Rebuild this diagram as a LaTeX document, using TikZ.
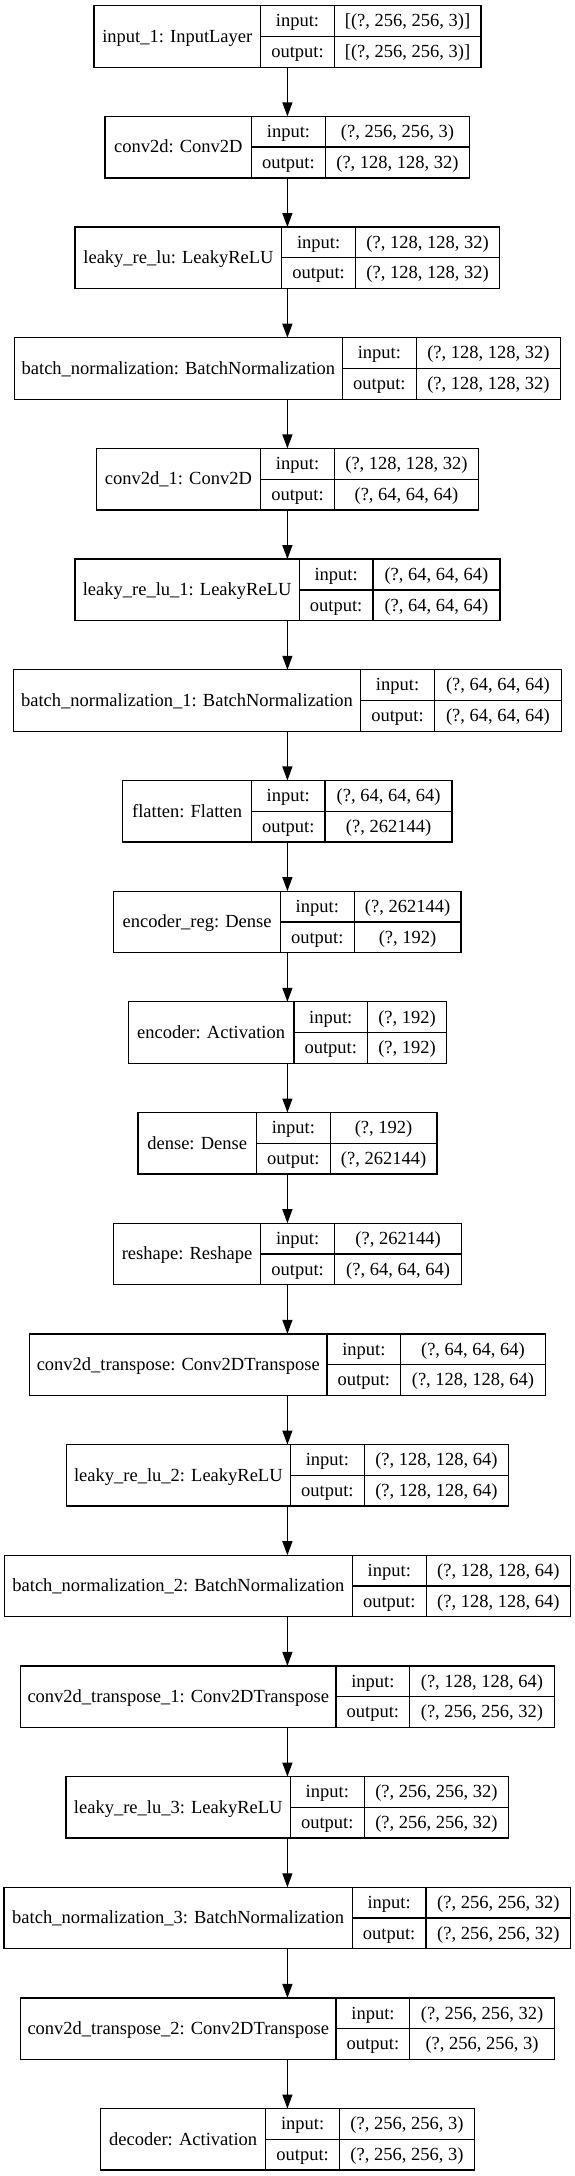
\documentclass[tikz,border=0pt]{standalone}
\usepackage{fontspec}
\setmainfont{Liberation Serif}
\usetikzlibrary{arrows.meta}
\tikzset{
  boxline/.style={draw=black, line width=1.3pt},
  celltext/.style={anchor=base, inner sep=0pt, font=\fontsize{18.5}{22}\selectfont},
  flowarrow/.style={draw=black, line width=1.3pt, -{Triangle[length=14pt,width=10pt]}},
}
\newcommand\layerbox[6]{%
  \pgfmathsetmacro\lyT{5.7+110.68*#1}%
  \pgfmathsetmacro\lyW{#2+73.7+#3}%
  \pgfmathsetmacro\lyA{287.4-\lyW/2}%
  \pgfmathsetmacro\lyB{\lyA+#2}%
  \pgfmathsetmacro\lyC{\lyB+73.7}%
  \pgfmathsetmacro\lyD{\lyA+\lyW}%
  \pgfmathsetmacro\lyBot{\lyT+61.5}%
  \pgfmathsetmacro\lyMid{\lyT+30.75}%
  \node[boxline, rectangle, inner sep=0pt, outer sep=0pt, minimum width=\lyW pt, minimum height=61.5pt, anchor=north] (L#1) at (287.4,\lyT) {};
  \draw[boxline] (\lyB,\lyT) -- (\lyB,\lyBot) (\lyC,\lyT) -- (\lyC,\lyBot) (\lyB,\lyMid) -- (\lyD,\lyMid);
  \node[celltext] (L#1name) at ({(\lyA+\lyB)/2},\lyMid+5.8) {#4};
  \node[celltext] (L#1inlab) at ({(\lyB+\lyC)/2},\lyT+15.375+5.8) {input:};
  \node[celltext] (L#1outlab) at ({(\lyB+\lyC)/2},\lyT+46.125+5.8) {output:};
  \node[celltext] (L#1inval) at ({(\lyC+\lyD)/2},\lyT+15.375+5.8) {#5};
  \node[celltext] (L#1outval) at ({(\lyC+\lyD)/2},\lyT+46.125+5.8) {#6};
}
\begin{document}
\begin{tikzpicture}[x=1pt,y=-1pt]
\useasboundingbox[fill=white] (0,0) rectangle (575,2176);
\layerbox{0}{166.7}{146.5}{input\_1: InputLayer}{[(?, 256, 256, 3)]}{[(?, 256, 256, 3)]}
\layerbox{1}{146.5}{144.4}{conv2d: Conv2D}{(?, 256, 256, 3)}{(?, 128, 128, 32)}
\layerbox{2}{206.7}{144.2}{leaky\_re\_lu: LeakyReLU}{(?, 128, 128, 32)}{(?, 128, 128, 32)}
\layerbox{3}{328.3}{144.4}{batch\_normalization: BatchNormalization}{(?, 128, 128, 32)}{(?, 128, 128, 32)}
\layerbox{4}{164.5}{144.2}{conv2d\_1: Conv2D}{(?, 128, 128, 32)}{(?, 64, 64, 64)}
\layerbox{5}{224.4}{126.9}{leaky\_re\_lu\_1: LeakyReLU}{(?, 64, 64, 64)}{(?, 64, 64, 64)}
\layerbox{6}{347.4}{127.1}{batch\_normalization\_1: BatchNormalization}{(?, 64, 64, 64)}{(?, 64, 64, 64)}
\layerbox{7}{128.6}{126.9}{flatten: Flatten}{(?, 64, 64, 64)}{(?, 262144)}
\layerbox{8}{166.7}{106.9}{encoder\_reg: Dense}{(?, 262144)}{(?, 192)}
\layerbox{9}{165.7}{79}{encoder: Activation}{(?, 192)}{(?, 192)}
\layerbox{10}{118.6}{106.7}{dense: Dense}{(?, 192)}{(?, 262144)}
\layerbox{11}{147.6}{127.1}{reshape: Reshape}{(?, 262144)}{(?, 64, 64, 64)}
\layerbox{12}{297.5}{144.6}{conv2d\_transpose: Conv2DTranspose}{(?, 64, 64, 64)}{(?, 128, 128, 64)}
\layerbox{13}{224.4}{144.4}{leaky\_re\_lu\_2: LeakyReLU}{(?, 128, 128, 64)}{(?, 128, 128, 64)}
\layerbox{14}{348.2}{144.4}{batch\_normalization\_2: BatchNormalization}{(?, 128, 128, 64)}{(?, 128, 128, 64)}
\layerbox{15}{315.5}{144.6}{conv2d\_transpose\_1: Conv2DTranspose}{(?, 128, 128, 64)}{(?, 256, 256, 32)}
\layerbox{16}{224.4}{144.6}{leaky\_re\_lu\_3: LeakyReLU}{(?, 256, 256, 32)}{(?, 256, 256, 32)}
\layerbox{17}{348.2}{144.8}{batch\_normalization\_3: BatchNormalization}{(?, 256, 256, 32)}{(?, 256, 256, 32)}
\layerbox{18}{315.7}{144.6}{conv2d\_transpose\_2: Conv2DTranspose}{(?, 256, 256, 32)}{(?, 256, 256, 3)}
\layerbox{19}{165.3}{134.8}{decoder: Activation}{(?, 256, 256, 3)}{(?, 256, 256, 3)}
\foreach \i [evaluate=\i as \j using int(\i+1)] in {0,...,18}{
  \draw[flowarrow] (L\i.south) -- (L\j.north);
}
\end{tikzpicture}
\end{document}
